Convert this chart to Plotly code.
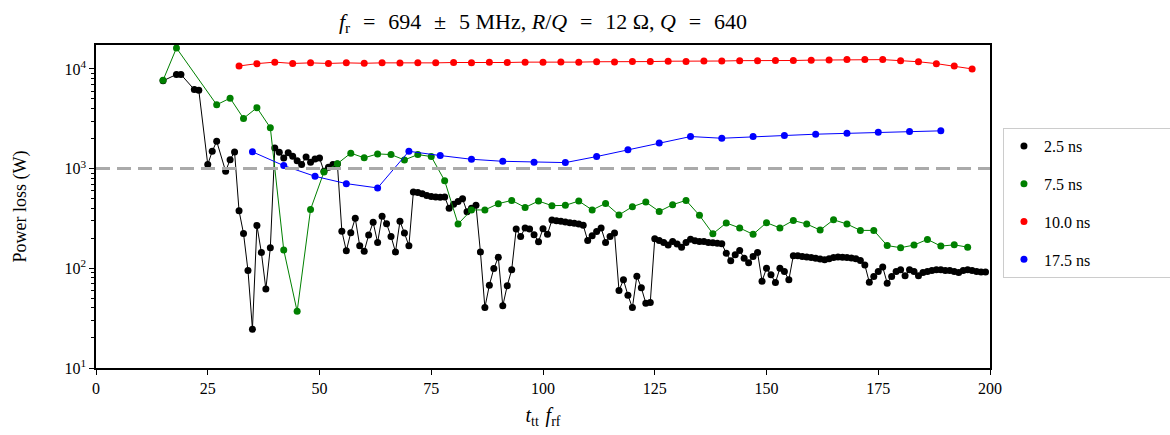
import plotly.graph_objects as go

# ---------------- data ----------------
x_25 = [15, 18, 19, 22, 23, 25, 26, 27, 29, 30, 31] + list(range(32, 200))
y_25 = [7600, 8800, 8800, 6200, 6100, 1100, 1490, 1880, 940, 1230, 1470,
        # 32-39
        378, 224, 95, 24.5, 269, 144, 62, 161,
        # 40-49
        1610, 1460, 1280, 1440, 1330, 1200, 1100, 1310, 1160, 1250,
        # 50-59
        1280, 940, 1030, 1100, 1115, 236, 150, 228, 317, 168,
        # 60-69
        148, 216, 289, 182, 332, 280, 209, 146, 296, 226,
        # 70-79
        168, 582, 575, 561, 536, 524, 520, 515, 520, 400,
        # 80-89
        440, 468, 500, 370, 400, 430, 146, 40.4, 67.8, 99.6,
        # 90-99
        129, 42, 67, 97, 248, 209, 254, 248, 217, 185,
        # 100-109
        250, 220, 305, 300, 297, 292, 287, 283, 278, 270,
        # 110-119
        190, 212, 234, 254, 182, 209, 226, 59.8, 76.6, 53.7,
        # 120-129
        40.4, 83.4, 63.7, 44.7, 45.5, 198, 190, 182, 171, 186,
        # 130-139
        175, 163, 182, 196, 189, 186, 186, 182, 180, 178,
        # 140-149
        176, 142, 119, 137, 151, 126, 114, 131, 144, 74.3,
        # 150-159
        100, 86, 72, 100, 93, 76.6, 134, 134, 131, 130,
        # 160-169
        128, 126, 124, 122, 125, 128, 130, 129, 128, 127,
        # 170-179
        125, 120, 108, 72.6, 83, 93, 103, 71, 83, 93,
        # 180-189
        97, 84, 97, 93, 84, 91, 93, 95, 97, 97,
        # 190-199
        95, 95, 93, 91, 95, 97, 95, 93, 92, 92]

x_75 = [15, 18] + list(range(27, 196, 3))
y_75 = [7700, 16200, 4370, 5090, 3190, 4080, 2570, 153, 37, 390,
        927, 1120, 1430, 1283, 1405, 1383, 1222, 1383, 1321, 757,
        278, 385, 385, 445, 480, 408, 473, 425, 428, 473,
        385, 448, 343, 415, 462, 372, 435, 480, 340, 222,
        285, 254, 219, 287, 254, 302, 278, 242, 307, 278,
        240, 240, 169, 161, 171, 195, 167, 172, 163]

x_100 = list(range(32, 197, 4))
y_100 = [10700, 11300, 11700, 11350, 11500, 11350, 11500, 11400, 11500, 11450,
         11550, 11500, 11600, 11550, 11650, 11600, 11700, 11650, 11750, 11700,
         11800, 11750, 11850, 11850, 11950, 11900, 12000, 12000, 12100, 12050,
         12150, 12150, 12250, 12300, 12400, 12450, 12400, 12100, 11800, 11300,
         10700, 10000]

x_175 = list(range(35, 190, 7))
y_175 = [1473, 1072, 837, 707, 640, 1493, 1352, 1241, 1184, 1157,
         1149, 1321, 1542, 1812, 2098, 2017, 2098, 2148, 2215, 2266,
         2318, 2355, 2393]

series = [("2.5 ns", x_25, y_25, "black"),
          ("7.5 ns", x_75, y_75, "green"),
          ("10.0 ns", x_100, y_100, "red"),
          ("17.5 ns", x_175, y_175, "blue")]

threshold = 1000
x_ticks = [0, 25, 50, 75, 100, 125, 150, 175, 200]
y_ticks = [10, 100, 1000, 10000]
y_ticktext = ["10<sup>1</sup>", "10<sup>2</sup>", "10<sup>3</sup>", "10<sup>4</sup>"]
minor_vals = [m * 10 ** e for e in range(1, 5) for m in range(2, 10)]

FONT = "Liberation Serif"
SP = "&#8196;"  # extra math-like spacing
PAD = "&nbsp;" * 22  # widens the legend box so it runs past the right edge

title_text = (f"<i>f</i><sub>r</sub>{SP} = {SP}694{SP} ± {SP}5 MHz, "
              f"<i>R</i>/<i>Q</i>{SP} = {SP}12 Ω, <i>Q</i>{SP} = {SP}640")

fig = go.Figure()
for name, xs, ys, col in series:
    fig.add_trace(go.Scatter(x=xs, y=ys, mode="lines+markers", name=name,
                             line=dict(color=col, width=1),
                             marker=dict(color=col, size=7),
                             showlegend=False))
for i, (name, xs, ys, col) in enumerate(series):
    fig.add_trace(go.Scatter(x=[None], y=[None], mode="markers", name=name + PAD,
                             marker=dict(color=col, size=7),
                             legendgroup=f"g{i}", showlegend=True))

fig.add_hline(y=threshold, line=dict(color="#aaaaaa", width=3, dash="14px,7px"))

fig.update_layout(
    width=1170, height=435,
    margin=dict(l=96, r=180, t=45, b=67, autoexpand=False),
    paper_bgcolor="white", plot_bgcolor="white",
    font=dict(family=FONT, size=16, color="black"),
    title=dict(text=title_text,
               x=0.5, xref="paper", xanchor="center", y=0.952, yanchor="middle",
               font=dict(family=FONT, size=22)),
    xaxis=dict(range=[0, 200], tickvals=x_ticks, ticks="outside", ticklen=5,
               tickwidth=1.2, tickcolor="black", showgrid=False, zeroline=False,
               showline=True, linecolor="black", linewidth=1.5, mirror=True,
               tickfont=dict(size=16), automargin=False,
               title=dict(text=f"<i>t</i><sub>tt</sub>{SP}<i>f</i><sub>rf</sub>",
                          font=dict(size=20), standoff=12)),
    yaxis=dict(type="log", range=[1, 4.24], tickmode="array", tickvals=y_ticks,
               ticktext=y_ticktext, automargin=False,
               ticks="outside", ticklen=5, tickwidth=1.2, tickcolor="black",
               showgrid=False, zeroline=False, showline=True, linecolor="black",
               linewidth=1.5, mirror=True, tickfont=dict(size=16),
               minor=dict(tickmode="array", tickvals=minor_vals, ticks="outside",
                          ticklen=3, tickwidth=1, tickcolor="black", showgrid=False),
               title=dict(text="Power loss (W)", font=dict(size=18), standoff=33)),
    legend=dict(x=1.0145, y=0.743, xanchor="left", yanchor="top",
                bordercolor="#cccccc", borderwidth=1, bgcolor="white",
                font=dict(size=16), tracegroupgap=14, itemwidth=30),
)

fig.write_html("out.html")
